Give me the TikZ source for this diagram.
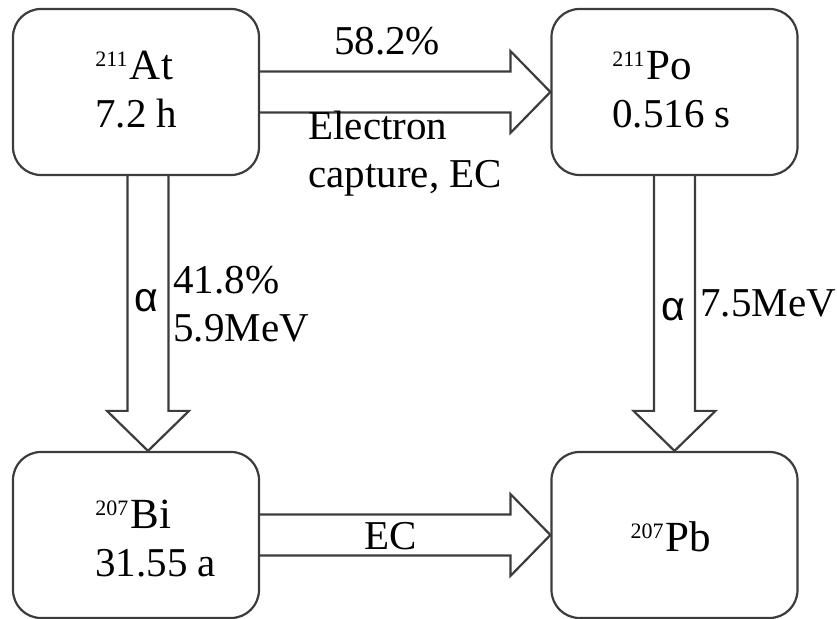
\documentclass[tikz,border=0pt]{standalone}
\usepackage{fontspec}
\setmainfont{Liberation Serif}
\newfontfamily\greekfont{Liberation Sans}
\usetikzlibrary{calc}
\definecolor{chainink}{HTML}{3C3C3C}
\newcommand{\nuc}[2]{\raisebox{6.8pt}{\fontsize{11}{11}\selectfont #1}\kern1.2pt
  {\fontsize{21.5}{24}\selectfont #2}}

% open block arrows; shaft 20.5pt wide, head 41pt wide and 20pt long
\newcommand{\fatright}[2]{%
  \draw[fatarrow] let \p1=(#1), \p2=(#2) in
    (\x1,\y1+10.25pt) -- (\x2-20pt,\y1+10.25pt) -- (\x2-20pt,\y1+20.5pt)
    -- (\x2,\y1) -- (\x2-20pt,\y1-20.5pt) -- (\x2-20pt,\y1-10.25pt)
    -- (\x1,\y1-10.25pt);}
\newcommand{\fatdown}[2]{%
  \draw[fatarrow] let \p1=(#1), \p2=(#2) in
    (\x1-10.25pt,\y1) -- (\x1-10.25pt,\y2+20pt) -- (\x1-20.5pt,\y2+20pt)
    -- (\x1,\y2) -- (\x1+20.5pt,\y2+20pt) -- (\x1+10.25pt,\y2+20pt)
    -- (\x1+10.25pt,\y1);}

\begin{document}
\begin{tikzpicture}[
  x=0.5pt,
  y=-0.5pt,
  every node/.style={font=\fontsize{20.5}{24}\selectfont, black},
  isobox/.style={draw=chainink, line width=1.1pt, rounded corners=14pt,
                 minimum width=123pt, minimum height=83pt, inner sep=0pt},
  fatarrow/.style={chainink, line width=1.1pt, line join=miter},
  tag/.style={inner sep=0pt, align=left}
]
  \useasboundingbox (0,0) rectangle (837,619);

  % ---- the four nuclides ------------------------------------------------
  \node[isobox] (at) at (136,92)   {};
  \node[isobox] (po) at (674.5,92) {};
  \node[isobox] (bi) at (136,535)  {};
  \node[isobox] (pb) at (674.5,535) {};

  % base of a two-line tag is the baseline of its second line
  \node[tag, anchor=base west] (atlbl) at (95,128)  {\nuc{211}{At}\\7.2 h};
  \node[tag, anchor=base west] (polbl) at (612,128) {\nuc{211}{Po}\\0.516 s};
  \node[tag, anchor=base west] (bilbl) at (95,577)  {\nuc{207}{Bi}\\31.55 a};
  \node[tag, anchor=base] (pblbl) at (671,552)      {\nuc{207}{Pb}};

  % ---- decays -------------------------------------------------------------
  \fatright{at.east}{po.west}
  \fatright{bi.east}{pb.west}
  \fatdown{$(at.south)+(12,0)$}{$(bi.north)+(12,0)$}
  \fatdown{po.south}{pb.north}

  % ---- branch labels ------------------------------------------------------
  \node[tag, anchor=base] (ecpct) at (387,55) {58.2\%};
  \node[tag, anchor=base west] (ecname) at (308,188) {Electron\\capture, EC};
  \node[tag] (alphaA) at (146,301) {\greekfont α};
  \node[tag, anchor=base west] (alphaAinfo) at (173,342) {41.8\%\\5.9MeV};
  \node[tag] (alphaB) at (673,310) {\greekfont α};
  \node[tag, anchor=base west] (alphaBinfo) at (700,317) {7.5MeV};
  \node[tag, anchor=base] (ecbi) at (391,550) {EC};
\end{tikzpicture}
\end{document}
